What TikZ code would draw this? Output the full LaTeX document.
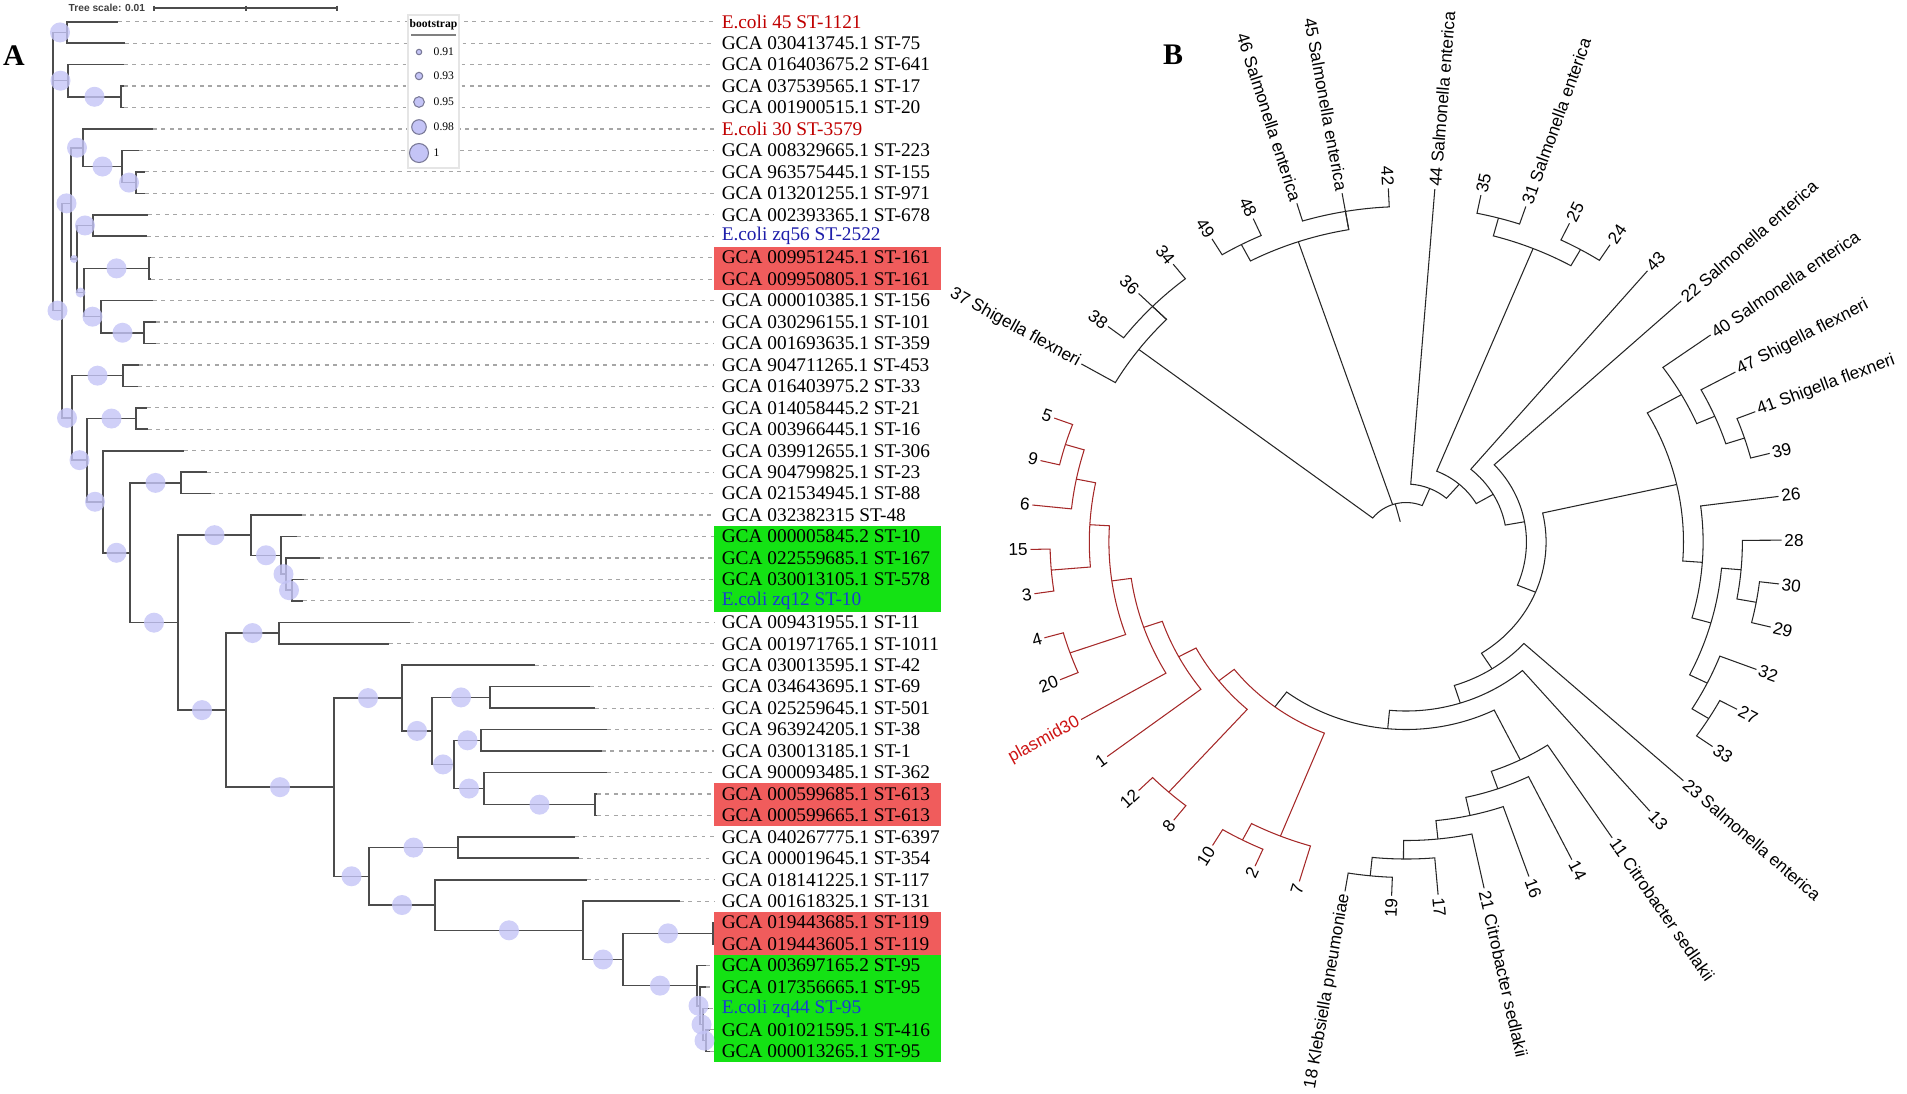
\documentclass[tikz,border=0pt]{standalone}
\usepackage{fontspec}
\setmainfont{Liberation Serif}
\setsansfont{Liberation Sans}
\usetikzlibrary{calc}
\definecolor{ecred}{RGB}{192,0,0}
\definecolor{ecblue}{RGB}{30,30,170}
\definecolor{zqblue}{RGB}{25,60,210}
\definecolor{boxred}{RGB}{240,92,92}
\definecolor{boxgreen}{RGB}{20,226,20}
\definecolor{bootfill}{RGB}{196,196,246}
\definecolor{legrim}{RGB}{120,120,150}
\definecolor{cladered}{RGB}{165,40,40}
\definecolor{plasred}{RGB}{205,20,20}
\tikzset{
  branch/.style = {draw=black!70, line width=0.45pt},
  leader/.style = {draw=black!35, line width=0.35pt, dash pattern=on 1.1pt off 1.3pt},
  boot/.style   = {fill=bootfill, fill opacity=0.8},
  legdot/.style = {fill=bootfill, draw=legrim, line width=0.3pt},
  taxon/.style  = {anchor=west, inner sep=2pt, font=\fontsize{5.5}{6}\selectfont},
  bline/.style  = {draw=black!85, line width=0.3pt},
  bred/.style   = {draw=cladered, line width=0.3pt},
  blab/.style   = {inner sep=0.6pt, font=\sffamily\fontsize{4.9}{6}\selectfont},
  panel/.style  = {font=\bfseries\fontsize{8.5}{10}\selectfont}
}
% circular tree helpers: angle and radius kept per node
\newcommand\tipB[2]{\expandafter\xdef\csname ba#1\endcsname{#2}%
  \expandafter\xdef\csname br#1\endcsname{354}%
  \coordinate (#1) at (#2:354);}
\newcommand\nodeB[5][bline]{%
  \edef\angA{\csname ba#4\endcsname}\edef\angB{\csname ba#5\endcsname}%
  \pgfmathsetmacro\angN{(\angA+\angB)/2}%
  \pgfmathsetmacro\radN{354-18.5*#3}%
  \expandafter\xdef\csname ba#2\endcsname{\angN}%
  \expandafter\xdef\csname br#2\endcsname{\radN}%
  \coordinate (#2) at (\angN:\radN);
  \draw[#1] (#4) -- (\angA:\radN) arc[start angle=\angA, end angle=\angB, radius=\radN] -- (#5);}
\newcommand\legB[3][bline]{%
  \edef\angC{\csname ba#3\endcsname}\edef\radP{\csname br#2\endcsname}%
  \draw[#1] (#3) -- (\angC:\radP);}
\newcommand\labB[3][black]{%
  \edef\bphi{\csname ba#2\endcsname}%
  \pgfmathsetmacro\bth{atan2(sin(\bphi),1.06*cos(\bphi))}%
  \pgfmathsetmacro\bcos{cos(\bphi)}%
  \ifdim\bcos pt<0pt
    \node[blab, text=#1, anchor=east, rotate=\bth+180] (lab#2) at (#2) {#3};%
  \else
    \node[blab, text=#1, anchor=west, rotate=\bth] (lab#2) at (#2) {#3};%
  \fi}

\begin{document}
\begin{tikzpicture}[x=0.01cm, y=-0.01cm]
\useasboundingbox (0,0) rectangle (1907,1093);

% panel letters
\node[panel] (pA) at (14,56) {A};
\node[panel] (pB) at (1173,55) {B};

% tree scale
\node[anchor=west, inner sep=0pt, text=black!75,
      font=\sffamily\bfseries\fontsize{2.9}{3.5}\selectfont] (tscale) at (68,8) {Tree scale: 0.01};
\coordinate (s0) at (154,8); \coordinate (s1) at (246,8); \coordinate (s2) at (337,8);
\draw[black!70, line width=0.35pt] (s0) -- (s2);
\foreach \s in {s0,s1,s2}
  \draw[black!70, line width=0.35pt] ($(\s)+(0,-2.5)$) -- ($(\s)+(0,2.5)$);

% highlighted strains
\fill[boxred]   (714,246.9) rectangle (941,289.8);
\fill[boxgreen] (714,525.8) rectangle (941,611.6);
\fill[boxred]   (714,783.2) rectangle (941,826.1);
\fill[boxred]   (714,911.9) rectangle (941,954.8);
\fill[boxgreen] (714,954.8) rectangle (941,1062.0);

% leaf labels
\foreach \txt/\col [count=\i] in {
  E.coli 45 ST-1121/ecred, GCA 030413745.1 ST-75/black, GCA 016403675.2 ST-641/black,
  GCA 037539565.1 ST-17/black, GCA 001900515.1 ST-20/black, E.coli 30 ST-3579/ecred,
  GCA 008329665.1 ST-223/black, GCA 963575445.1 ST-155/black, GCA 013201255.1 ST-971/black,
  GCA 002393365.1 ST-678/black, E.coli zq56 ST-2522/ecblue, GCA 009951245.1 ST-161/black,
  GCA 009950805.1 ST-161/black, GCA 000010385.1 ST-156/black, GCA 030296155.1 ST-101/black,
  GCA 001693635.1 ST-359/black, GCA 904711265.1 ST-453/black, GCA 016403975.2 ST-33/black,
  GCA 014058445.2 ST-21/black, GCA 003966445.1 ST-16/black, GCA 039912655.1 ST-306/black,
  GCA 904799825.1 ST-23/black, GCA 021534945.1 ST-88/black, GCA 032382315 ST-48/black,
  GCA 000005845.2 ST-10/black, GCA 022559685.1 ST-167/black, GCA 030013105.1 ST-578/black,
  E.coli zq12 ST-10/zqblue, GCA 009431955.1 ST-11/black, GCA 001971765.1 ST-1011/black,
  GCA 030013595.1 ST-42/black, GCA 034643695.1 ST-69/black, GCA 025259645.1 ST-501/black,
  GCA 963924205.1 ST-38/black, GCA 030013185.1 ST-1/black, GCA 900093485.1 ST-362/black,
  GCA 000599685.1 ST-613/black, GCA 000599665.1 ST-613/black, GCA 040267775.1 ST-6397/black,
  GCA 000019645.1 ST-354/black, GCA 018141225.1 ST-117/black, GCA 001618325.1 ST-131/black,
  GCA 019443685.1 ST-119/black, GCA 019443605.1 ST-119/black, GCA 003697165.2 ST-95/black,
  GCA 017356665.1 ST-95/black, E.coli zq44 ST-95/zqblue, GCA 001021595.1 ST-416/black,
  GCA 000013265.1 ST-95/black}
  \node[taxon, text=\col] (l\i) at (714,{21.7+(\i-1)*21.45}) {\txt};

% branch tips
\foreach \x [count=\i] in {118,125,124,124,124,153,139,145,145,148,147,151,151,153,156,156,
  139,138,147,148,184,207,211,302,297,320,304,303,410,389,535,590,595,607,602,607,597,597,
  575,579,587,680,714,714,706,706,709,710,710}
  \coordinate (t\i) at (\x,{21.7+(\i-1)*21.45});

\foreach \i in {1,...,49}
  \draw[leader] (t\i) -- (l\i.west);

% inner nodes of the rooted tree
\foreach \n/\x/\y in {R/53/171.5, N1/67/32.43, N2/68/80.69, N3/121/96.78, P/62/310.62,
  A/71/203.36, N4/83/147.72, N5/122/166.49, N6/136/182.58, N9/77/258.99, N8/93/225.48,
  B/84/292.51, D/149/268.38, C/101/316.64, E/144/332.73, Q/72/417.88, F/123/375.63,
  G/87/460.13, H/136/418.53, I/103/501.73, J/130/552.76, K/181/482.88, L/178/622.63,
  M/251/535.16, Nn/281/555.27, S/286/574.04, T/292/590.13, O/226/710.10, U/279/633.03,
  V/334/787.16, W/402/698.05, Y/432/730.90, Z1/490/697.38, Z2/454/764.41, Z3/481/740.28,
  Z4/484/788.54, Z5/595/804.63, X/369/876.27, X1/458/847.53, X2/435/905.01, X3/583/930.31,
  X4/623/959.47, X5/713/933.33, X6/697/985.61, X7/700/1005.72, X8/703/1024.49, X9/706/1040.58}
  \coordinate (\n) at (\x,\y);

\foreach \p/\c in {N1/t1, N1/t2, N2/t3, N3/t4, N3/t5, N4/t6, N5/t7, N6/t8, N6/t9, N8/t10,
  N8/t11, D/t12, D/t13, C/t14, E/t15, E/t16, F/t17, F/t18, H/t19, H/t20, I/t21, K/t22,
  K/t23, M/t24, Nn/t25, S/t26, T/t27, T/t28, U/t29, U/t30, W/t31, Z1/t32, Z1/t33, Z3/t34,
  Z3/t35, Z4/t36, Z5/t37, Z5/t38, X1/t39, X1/t40, X2/t41, X3/t42, X5/t43, X5/t44, X6/t45,
  X7/t46, X8/t47, X9/t48, X9/t49}
  \draw[branch] (\p) |- (\c);

\foreach \p/\c/\s in {R/N1/10, R/N2/10, R/P/10, N2/N3/10, P/A/10, P/Q/10, A/N4/10, A/N9/4,
  N4/N5/10, N5/N6/10, N9/N8/10, N9/B/5, B/D/10, B/C/10, C/E/10, Q/F/10, Q/G/10, G/H/10,
  G/I/10, I/J/10, J/K/10, J/L/10, L/M/10, L/O/10, M/Nn/10, Nn/S/10, S/T/10, O/U/10, O/V/10,
  V/W/10, V/X/10, W/Y/10, Y/Z1/10, Y/Z2/10, Z2/Z3/10, Z2/Z4/10, Z4/Z5/10, X/X1/10, X/X2/10,
  X2/X3/10, X3/X4/10, X4/X5/10, X4/X6/10, X6/X7/10, X7/X8/10, X8/X9/10}
  \draw[branch] (\p) |- (\c);

% bootstrap support
\foreach \p/\c/\s in {R/N1/10, R/N2/10, R/P/10, N2/N3/10, P/A/10, P/Q/10, A/N4/10, A/N9/4,
  N4/N5/10, N5/N6/10, N9/N8/10, N9/B/5, B/D/10, B/C/10, C/E/10, Q/F/10, Q/G/10, G/H/10,
  G/I/10, I/J/10, J/K/10, J/L/10, L/M/10, L/O/10, M/Nn/10, Nn/S/10, S/T/10, O/U/10, O/V/10,
  V/W/10, V/X/10, W/Y/10, Y/Z1/10, Y/Z2/10, Z2/Z3/10, Z2/Z4/10, Z4/Z5/10, X/X1/10, X/X2/10,
  X2/X3/10, X3/X4/10, X4/X5/10, X4/X6/10, X6/X7/10, X7/X8/10, X8/X9/10}
  \fill[boot] ($(\p |- \c)!0.5!(\c)$) circle[radius=\s];

% legend
\draw[black!10, fill=white] (408,15) rectangle (459,168);
\node[inner sep=0pt, font=\bfseries\fontsize{3.3}{4}\selectfont] (legT) at (433.5,25) {bootstrap};
\draw[black!50, line width=0.3pt] (411,35) -- (456,35);
\foreach \v/\y/\r [count=\i] in {0.91/52/2.7, 0.93/76/3.7, 0.95/102/5.3, 0.98/127/7.3, 1/153/9.5} {
  \path[legdot] (419,\y) circle[radius=\r];
  \node[anchor=west, inner sep=0pt, font=\fontsize{3.3}{4}\selectfont] (leg\i) at (433,\y) {\v};
}

% circular tree
\begin{scope}[shift={(1406,542)}, x=0.0106cm, y=0.01cm]
\foreach \n/\a in {b28/0.3, b30/-6.8, b29/-13.9, b32/-21.1, b27/-28.2, b33/-35.3, b23/-42.4,
  b13/-49.5, b11/-56.7, b14/-63.8, b16/-70.9, b21/-78.0, b17/-85.1, b19/-92.2, b18/-99.35,
  b7/-106.5, b2/-113.7, b10/-121.0, b8/-128.2, b12/-135.4, b1/-142.7, bpl/-149.9, b20/-157.1,
  b4/-164.3, b3/-171.6, b15/-178.8, b6/-186.0, b9/-193.3, b5/-200.5, b37/149.8, b38/142.5,
  b36/135.4, b34/128.3, b49/121.1, b48/114.0, b46/106.9, b45/99.8, b42/92.7, b44/85.6,
  b35/78.5, b31/71.4, b25/64.2, b24/57.1, b43/50.0, b22/42.9, b40/35.8, b47/28.7, b41/21.6,
  b39/14.5, b26/7.4}
  \tipB{\n}{\a};

% plasmid clade
\nodeB[bred]{p59}{1}{b5}{b9}
\nodeB[bred]{p596}{2}{p59}{b6}
\nodeB[bred]{p153}{1}{b15}{b3}
\nodeB[bred]{ra1}{3}{p596}{p153}
\nodeB[bred]{p420}{1}{b4}{b20}
\nodeB[bred]{ra2}{4}{ra1}{p420}
\nodeB[bred]{ra3}{5}{ra2}{bpl}
\nodeB[bred]{ra4}{6}{ra3}{b1}
\nodeB[bred]{p128}{1}{b12}{b8}
\nodeB[bred]{ra5}{7}{ra4}{p128}
\nodeB[bred]{p102}{1}{b10}{b2}
\nodeB[bred]{p1027}{2}{p102}{b7}
\nodeB[bred]{ra6}{8}{ra5}{p1027}

% remaining clades
\nodeB{p1819}{1}{b18}{b19}
\nodeB{p17}{2}{p1819}{b17}
\nodeB{p21}{3}{p17}{b21}
\nodeB{p16}{4}{p21}{b16}
\nodeB{p14}{5}{p16}{b14}
\nodeB{p11}{6}{p14}{b11}
\nodeB{sp7}{9}{ra6}{p11}
\nodeB{sp8}{10}{sp7}{b13}
\nodeB{sp9}{11}{sp8}{b23}
\nodeB{p2733}{1}{b27}{b33}
\nodeB{p32}{2}{b32}{p2733}
\nodeB{p3029}{1}{b30}{b29}
\nodeB{p28}{2}{b28}{p3029}
\nodeB{p3h}{3}{p28}{p32}
\nodeB{p26}{4}{b26}{p3h}
\nodeB{p4139}{1}{b41}{b39}
\nodeB{p47}{2}{b47}{p4139}
\nodeB{p40}{3}{b40}{p47}
\nodeB{pright}{5}{p40}{p26}
\nodeB{sp10}{12}{pright}{sp9}
\nodeB{sp11}{13}{b22}{sp10}
\nodeB{sp12}{14}{b43}{sp11}
\nodeB{p3531}{1}{b35}{b31}
\nodeB{p2524}{1}{b25}{b24}
\nodeB{psal}{2}{p3531}{p2524}
\nodeB{sp13}{15}{psal}{sp12}
\nodeB{sp14}{16}{b44}{sp13}
\nodeB{p4642}{1}{b46}{b42}
\nodeB{p4948}{1}{b49}{b48}
\nodeB{p45}{2}{p4948}{b45}
\legB{p45}{p4642}
\nodeB{p3834}{1}{b38}{b34}
\nodeB{p37}{2}{b37}{p3834}
\legB{p37}{b36}
\nodeB{sp15}{17}{p37}{sp14}
\legB{sp15}{p45}
\edef\angR{\csname basp15\endcsname}
\coordinate (broot) at (\angR:21);
\draw[bline] (sp15) -- (broot);

% tip labels
\foreach \n/\t in {b28/28, b30/30, b29/29, b32/32, b27/27, b33/33, b23/23 Salmonella enterica,
  b13/13, b11/11 Citrobacter sedlakii, b14/14, b16/16, b21/21 Citrobacter sedlakii, b17/17,
  b19/19, b18/18 Klebsiella pneumoniae, b7/7, b2/2, b10/10, b8/8, b12/12, b1/1, b20/20, b4/4,
  b3/3, b15/15, b6/6, b9/9, b5/5, b37/37 Shigella flexneri, b38/38, b36/36, b34/34, b49/49,
  b48/48, b46/46 Salmonella enterica, b45/45 Salmonella enterica, b42/42,
  b44/44 Salmonella enterica, b35/35, b31/31 Salmonella enterica, b25/25, b24/24, b43/43,
  b22/22 Salmonella enterica, b40/40 Salmonella enterica, b47/47 Shigella flexneri,
  b41/41 Shigella flexneri, b39/39, b26/26}
  \labB{\n}{\t};
\labB[plasred]{bpl}{plasmid30}
\end{scope}
\end{tikzpicture}
\end{document}
